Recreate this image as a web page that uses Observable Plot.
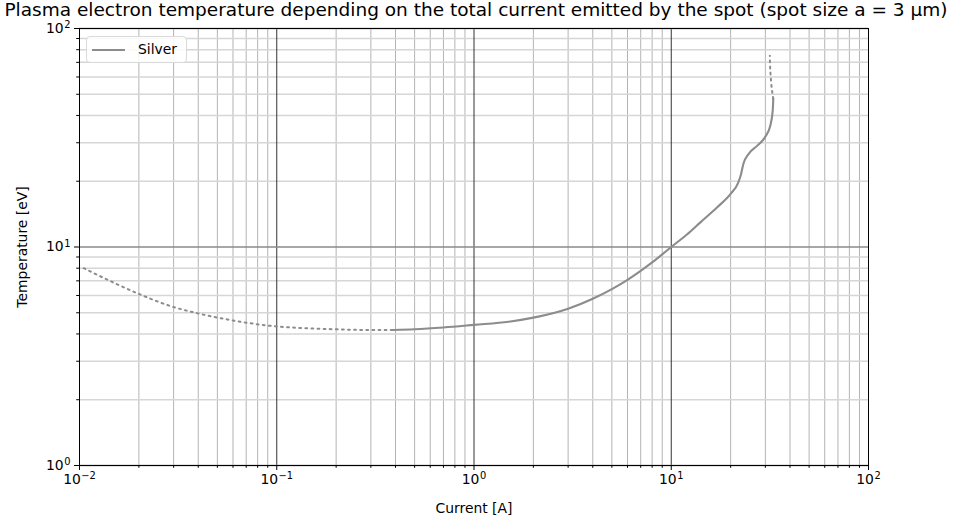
<!DOCTYPE html>
<html><head><meta charset="utf-8">
<script src="https://cdn.jsdelivr.net/npm/d3@7"></script>
<script src="https://cdn.jsdelivr.net/npm/@observablehq/plot@0.6"></script>
<style>
body{margin:0;background:#fff;font-family:"DejaVu Sans",sans-serif;}
#wrap{position:relative;width:957px;height:521px;overflow:hidden;background:#fff;}
#title{position:absolute;left:476px;top:-1px;transform:translateX(-50%);white-space:nowrap;font-size:18.5px;line-height:22px;height:22px;color:#000;}
#chart{position:absolute;left:0;top:20px;}
#legend{position:absolute;left:86px;top:36px;width:101px;height:27px;border:1px solid #d9d9d9;border-radius:4px;background:rgba(255,255,255,0.85);box-sizing:border-box;font-size:13.9px;color:#000;}
#legend .sw{position:absolute;left:5px;top:12px;width:33px;height:2px;background:#8c8c8c;}
#legend .lb{position:absolute;left:51px;top:4px;line-height:17px;}
</style></head><body>
<div id="wrap">
  <div id="chart"></div>
  <div id="title">Plasma electron temperature depending on the total current emitted by the spot (spot size a = 3 µm)</div>
  <div id="legend"><div class="sw"></div><div class="lb">Silver</div></div>
</div>
<script>
// Data (current in A, temperature in eV)
const lowDottedCurrent = [0.0105, 0.015, 0.0204, 0.03, 0.0387, 0.06, 0.1, 0.15, 0.2, 0.3, 0.39];
const lowDottedTemp    = [8.0,    6.85,  6.05,   5.31, 5.0,    4.61, 4.33, 4.24, 4.2, 4.17, 4.17];

const solidCurrent = [0.39, 0.5, 0.7, 1, 1.5, 2, 3, 4, 5, 6, 7, 8, 9, 10, 12, 14.1, 17.1, 20, 21.8, 22.6, 23.2, 24.7, 27.3, 30, 31.8, 32.7, 32.9];
const solidTemp    = [4.17, 4.2, 4.28, 4.4, 4.55, 4.75, 5.22, 5.8, 6.42, 7.08, 7.78, 8.5, 9.25, 10, 11.4, 13.0, 15.2, 17.5, 19.6, 21.6, 24.0, 26.7, 29.1, 32.0, 36.0, 42.2, 47.7];

const topDottedCurrent = [32.9, 32.6, 32.3, 31.9, 31.7, 31.6];
const topDottedTemp    = [47.7, 50.3, 53.5, 61, 67, 75];

const xMajor = [0.01, 0.1, 1, 10, 100];
const yMajor = [1, 10, 100];
const xMinor = [];
for (const d of [0.01, 0.1, 1, 10]) for (let k = 2; k <= 9; k++) xMinor.push(+(d * k).toPrecision(3));
const yMinor = [];
for (const d of [1, 10]) for (let k = 2; k <= 9; k++) yMinor.push(d * k);

const seriesName = "Silver";

const supMap = {"-": "⁻", "0": "⁰", "1": "¹", "2": "²", "3": "³"};
const sup = d => "10" + String(Math.round(Math.log10(d))).replace(/./g, ch => supMap[ch]);

const toRows = (cs, ts) => cs.map((c, i) => ({c, t: ts[i]}));
const lowRows = toRows(lowDottedCurrent, lowDottedTemp);
const solidRows = toRows(solidCurrent, solidTemp);
const topRows = toRows(topDottedCurrent, topDottedTemp);

const lineColor = "#8c8c8c";

const chart = Plot.plot({
  width: 957, height: 501,
  marginTop: 8, marginBottom: 56, marginLeft: 79, marginRight: 89,
  style: {fontFamily: "DejaVu Sans", fontSize: "13.9px", color: "#000", background: "#fff", overflow: "visible"},
  x: {type: "log", domain: [0.01, 100]},
  y: {type: "log", domain: [1, 100]},
  marks: [
    Plot.gridX(xMinor, {stroke: "#b4b4b4", strokeOpacity: 1, strokeWidth: 1}),
    Plot.gridY(yMinor, {stroke: "#d6d6d6", strokeOpacity: 1, strokeWidth: 1.5}),
    Plot.gridX(xMajor, {stroke: "#333", strokeOpacity: 1, strokeWidth: 1}),
    Plot.gridY(yMajor, {stroke: "#8a8a8a", strokeOpacity: 1, strokeWidth: 1.5}),
    Plot.line(lowRows, {x: "c", y: "t", stroke: lineColor, strokeWidth: 2, strokeDasharray: "1.8,4.3", curve: "monotone-x"}),
    Plot.line(solidRows, {x: "c", y: "t", stroke: lineColor, strokeWidth: 2.1, curve: "monotone-x"}),
    Plot.line(topRows, {x: "c", y: "t", stroke: lineColor, strokeWidth: 2, strokeDasharray: "1.8,4.3", curve: "catmull-rom"}),
    Plot.frame({stroke: "#000", strokeWidth: 1}),
    Plot.axisX(xMinor, {tickSize: 2.8, tickFormat: () => "", label: null}),
    Plot.axisY(yMinor, {tickSize: 2.8, tickFormat: () => "", label: null}),
    Plot.axisX(xMajor, {tickSize: 5, tickPadding: 4, tickFormat: sup, label: "Current [A]", labelAnchor: "center", labelArrow: "none", labelOffset: 47}),
    Plot.axisY(yMajor, {tickSize: 5, tickPadding: 4, tickFormat: sup, label: "Temperature [eV]", labelAnchor: "center", labelArrow: "none", labelOffset: 62})
  ]
});

// Render exponents as real superscript tspans (like mathtext)
const ns = "http://www.w3.org/2000/svg";
const unsup = {"⁻": "−", "⁰": "0", "¹": "1", "²": "2", "³": "3"};
chart.querySelectorAll('g[aria-label$="tick label"] text').forEach(t => {
  const s = t.textContent;
  if (!s || !s.startsWith("10") || s.length < 3) return;
  const exp = s.slice(2).replace(/[⁻⁰¹²³]/g, ch => unsup[ch]);
  t.textContent = "";
  const base = document.createElementNS(ns, "tspan");
  base.textContent = "10";
  const e = document.createElementNS(ns, "tspan");
  e.textContent = exp;
  e.setAttribute("font-size", "71%");
  e.setAttribute("dy", "-0.5em");
  e.setAttribute("dx", "0.5");
  t.append(base, e);
});

document.getElementById("chart").appendChild(chart);
document.querySelector("#legend .lb").textContent = seriesName;
</script>
</body></html>
